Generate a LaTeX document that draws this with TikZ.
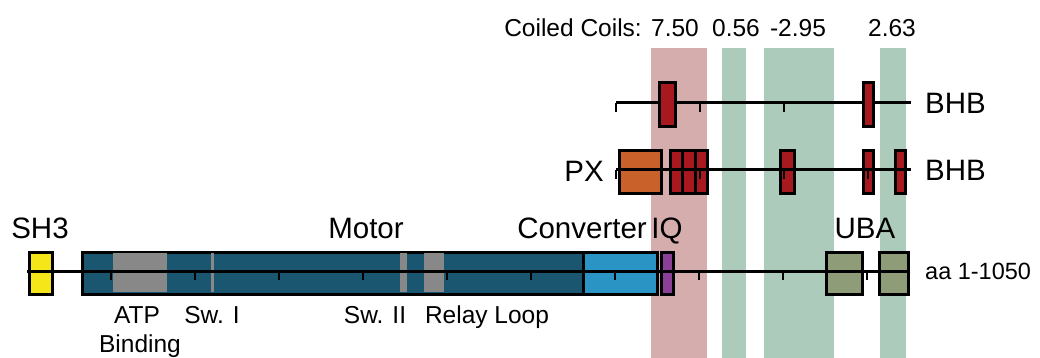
\documentclass[tikz,border=0pt]{standalone}
\usepackage{fontspec}
\setmainfont{Liberation Sans}
\definecolor{motorteal}{HTML}{1B5670}
\definecolor{convblue}{HTML}{2A94C4}
\definecolor{iqpurple}{HTML}{8B3F97}
\definecolor{sh3yellow}{HTML}{F5E61A}
\definecolor{pxorange}{HTML}{C8612A}
\definecolor{bhbred}{HTML}{A8191F}
\definecolor{ubaolive}{HTML}{8E9D77}
\definecolor{ccpink}{HTML}{D6ADAD}
\definecolor{ccgreen}{HTML}{ADCBBB}
\definecolor{loopgray}{HTML}{888888}

\begin{document}
\begin{tikzpicture}[
    x=1pt, y=-1pt,
    dom/.style={rectangle, draw=black, line width=3pt, anchor=north west, inner sep=0pt, minimum height=42pt},
    stripe/.style={rectangle, fill=loopgray, anchor=north west, inner sep=0pt, minimum height=39pt},
    band/.style={rectangle, anchor=north west, inner sep=0pt, minimum height=310pt},
    backbone/.style={line width=3pt, black},
    tick/.style={line width=2.5pt, black},
    big/.style={font=\fontsize{29.5}{31}\selectfont, inner sep=0pt},
    small/.style={font=\fontsize{24.5}{26}\selectfont, inner sep=0pt},
]
\useasboundingbox (0,0) rectangle (1040,358);

% coiled coil bands
\node[band, fill=ccpink, minimum width=56pt] (CC1) at (651,48) {};
\node[band, fill=ccgreen, minimum width=24pt] (CC2) at (722,48) {};
\node[band, fill=ccgreen, minimum width=70pt] (CC3) at (764,48) {};
\node[band, fill=ccgreen, minimum width=26pt] (CC4) at (880,48) {};

\node[small, anchor=base east] (CCLABEL) at (642,37) {Coiled Coils:};
\node[small, anchor=base] (CCV1) at (675,37) {7.50};
\node[small, anchor=base] (CCV2) at (736,37) {0.56};
\node[small, anchor=base] (CCV3) at (798,37) {-2.95};
\node[small, anchor=base] (CCV4) at (892,37) {2.63};

% top BHB row
\coordinate (TOPSTART) at (616,103);
\coordinate (TOPEND) at (911,103);
\draw[backbone] (TOPSTART) -- (TOPEND);
\foreach \k in {0,...,3}
    \draw[tick] (616+84*\k,103) -- ++(0,9);
\node[dom, fill=bhbred, minimum width=16pt, minimum height=44pt] (TOPB1) at (658,81) {};
\node[dom, fill=bhbred, minimum width=10pt, minimum height=44pt] (TOPB2) at (862,81) {};
\node[big, anchor=west] (TOPBHB) at (925,103) {BHB};

% PX row
\node[dom, fill=pxorange, minimum width=42pt, minimum height=43pt] (PXBOX) at (618,149) {};
\node[dom, fill=bhbred, minimum width=12pt, minimum height=43pt] (MIDB1) at (669,149) {};
\node[dom, fill=bhbred, minimum width=13pt, minimum height=43pt] (MIDB2) at (681,149) {};
\node[dom, fill=bhbred, minimum width=12pt, minimum height=43pt] (MIDB3) at (694,149) {};
\node[dom, fill=bhbred, minimum width=14pt, minimum height=43pt] (MIDB4) at (779,149) {};
\node[dom, fill=bhbred, minimum width=10pt, minimum height=43pt] (MIDB5) at (862,149) {};
\node[dom, fill=bhbred, minimum width=10pt, minimum height=43pt] (MIDB6) at (894,149) {};
\coordinate (MIDSTART) at (616,170);
\coordinate (MIDEND) at (911,170);
\draw[backbone] (MIDSTART) -- (MIDEND);
\foreach \k in {0,...,3}
    \draw[tick] (616+84*\k,170) -- ++(0,9);
\node[big, anchor=east] (PX) at (604,171) {PX};
\node[big, anchor=west] (MIDBHB) at (925,170) {BHB};

% main row
\node[dom, fill=sh3yellow, minimum width=23pt] (SH3) at (28,251) {};
\node[dom, fill=motorteal, minimum width=501pt] (MOTOR) at (81,251) {};
\node[stripe, minimum width=54pt] (ATP) at (113,252.5) {};
\node[stripe, minimum width=3pt] (SWI) at (211,252.5) {};
\node[stripe, minimum width=7pt] (SWII) at (400,252.5) {};
\node[stripe, minimum width=20pt] (RELAY) at (424,252.5) {};
\node[dom, fill=convblue, minimum width=74pt] (CONV) at (582,251) {};
\node[dom, fill=iqpurple, minimum width=12pt] (IQ) at (660,251) {};
\node[dom, fill=ubaolive, minimum width=36pt] (UBA1) at (825,251) {};
\node[dom, fill=ubaolive, minimum width=29pt] (UBA2) at (878,251) {};
\coordinate (AASTART) at (27,271);
\coordinate (AAEND) at (909,271);
\draw[backbone] (AASTART) -- (AAEND);
\foreach \k in {1,...,10}
    \draw[tick] (27+84*\k,271) -- ++(0,9);

\node[big, anchor=base] (SH3LABEL) at (40,238) {SH3};
\node[big, anchor=base] (MOTORLABEL) at (366,238) {Motor};
\node[big, anchor=base east] (CONVLABEL) at (647,238) {Converter};
\node[big, anchor=base] (IQLABEL) at (667,238) {IQ};
\node[big, anchor=base] (UBALABEL) at (865,238) {UBA};
\node[small, anchor=west, font=\fontsize{23.5}{26}\selectfont] (AALABEL) at (925,271) {aa 1-1050};

\node[small, anchor=base] (ATPLABEL) at (137,323) {ATP};
\node[small, anchor=base] (BINDLABEL) at (140,352) {Binding};
\node[small, anchor=base] (SWILABEL) at (212,323) {Sw. I};
\node[small, anchor=base] (SWIILABEL) at (375,323) {Sw. II};
\node[small, anchor=base] (RELAYLABEL) at (487,323) {Relay Loop};
\end{tikzpicture}
\end{document}
